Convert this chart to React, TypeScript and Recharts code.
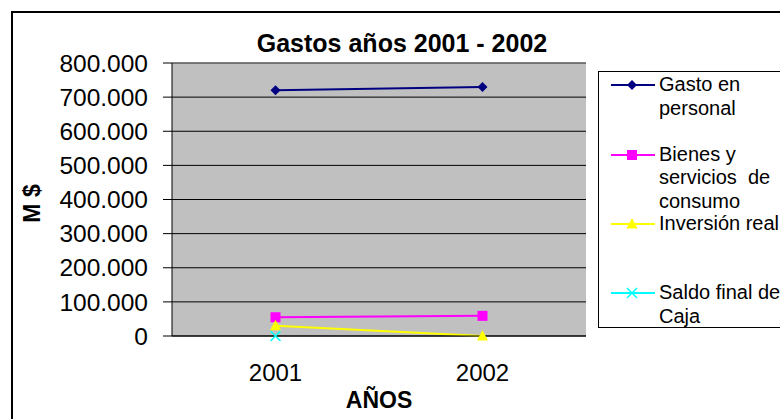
import React from 'react';
import { LineChart, Line, XAxis, YAxis, CartesianGrid, Legend, ReferenceLine } from 'recharts';

// values (M $)
const years = ['2001', '2002'];
const gastoPersonal = [720000, 730000];
const bienesServicios = [55000, 59000];
const inversionReal = [30000, 0];
const saldoFinalCaja: (number | null)[] = [0, null];

const yTicks = [0, 100000, 200000, 300000, 400000, 500000, 600000, 700000, 800000];
const boundaryTicks = [0, 1, 2];

const seriesKeys = ['gasto', 'bienes', 'inversion', 'saldo'];
const seriesNames = ['Gasto en personal', 'Bienes y servicios de consumo', 'Inversión real', 'Saldo final de Caja'];
const seriesColors = ['#000080', '#FF00FF', '#FFFF00', '#00FFFF'];
const seriesShapes = ['diamond', 'square', 'triangle', 'x'];
const legendLines = [['Gasto en', 'personal'], ['Bienes y', 'servicios  de', 'consumo'], ['Inversión real'], ['Saldo final de', 'Caja']];

const data = years.map((year, i) => ({
  year,
  gasto: gastoPersonal[i],
  bienes: bienesServicios[i],
  inversion: inversionReal[i],
  saldo: saldoFinalCaja[i],
}));

const font = '"Liberation Sans", Arial, sans-serif';

const fmt = (v: number) => String(v).replace(/\B(?=(\d{3})+(?!\d))/g, '.');

function Marker({ shape, cx, cy, color }: { shape: string; cx: number; cy: number; color: string }) {
  switch (shape) {
    case 'diamond':
      return <path d={`M${cx},${cy - 5}L${cx + 5},${cy}L${cx},${cy + 5}L${cx - 5},${cy}Z`} fill={color} />;
    case 'square':
      return <rect x={cx - 5} y={cy - 5} width={10} height={10} fill={color} />;
    case 'triangle':
      return <path d={`M${cx},${cy - 6}L${cx + 5.5},${cy + 4.5}L${cx - 5.5},${cy + 4.5}Z`} fill={color} />;
    default:
      return (
        <path
          d={`M${cx - 5},${cy - 5}L${cx + 5},${cy + 5}M${cx + 5},${cy - 5}L${cx - 5},${cy + 5}`}
          stroke={color}
          strokeWidth={1.5}
        />
      );
  }
}

const makeDot = (shape: string, color: string) => (props: any) => {
  const { cx, cy, index, value } = props;
  if (cx == null || cy == null || value == null) return <g key={`e-${index}`} />;
  return (
    <g key={`d-${index}`}>
      <Marker shape={shape} cx={cx} cy={cy} color={color} />
    </g>
  );
};

const renderLegend = (props: any) => {
  const payload = [...(props.payload || [])].sort(
    (a: any, b: any) => seriesKeys.indexOf(a.dataKey) - seriesKeys.indexOf(b.dataKey)
  );
  return (
    <div
      style={{
        width: 182,
        minWidth: 182,
        flexShrink: 0,
        height: 257,
        boxSizing: 'border-box',
        borderLeft: '1px solid #000',
        borderTop: '1px solid #000',
        borderBottom: '1px solid #000',
        background: '#fff',
        position: 'relative',
        overflow: 'hidden',
        fontFamily: font,
        fontSize: 20,
        lineHeight: '23.5px',
        color: '#000',
      }}
    >
      {payload.map((entry: any, i: number) => {
        const k = seriesKeys.indexOf(entry.dataKey);
        return (
          <div
            key={i}
            style={{ position: 'absolute', left: 12, top: 1.3 + i * 69.3, display: 'flex', width: 300 }}
          >
            <svg width={44} height={23.5} style={{ display: 'block', flexShrink: 0 }}>
              <line x1={0} x2={44} y1={12} y2={12} stroke={seriesColors[k]} strokeWidth={2} />
              <Marker shape={seriesShapes[k]} cx={21} cy={12} color={seriesColors[k]} />
            </svg>
            <div style={{ marginLeft: 4, whiteSpace: 'pre' }}>
              {legendLines[k].map((l, j) => (
                <div key={j}>{l}</div>
              ))}
            </div>
          </div>
        );
      })}
    </div>
  );
};

export default function App() {
  return (
    <div
      style={{
        position: 'fixed',
        left: 0,
        top: 0,
        width: 780,
        height: 419,
        overflow: 'hidden',
        background: '#fff',
        fontFamily: font,
      }}
    >
      <div
        style={{
          position: 'absolute',
          left: 11,
          top: 11,
          width: 820,
          height: 460,
          border: '2px solid #000',
        }}
      />
      <div
        style={{
          position: 'absolute',
          left: 0,
          top: 30,
          width: 804,
          textAlign: 'center',
          fontSize: 25,
          fontWeight: 'bold',
          lineHeight: '26px',
        }}
      >
        Gastos años 2001 - 2002
      </div>
      <LineChart
        width={780}
        height={419}
        data={data}
        margin={{ top: 63, right: 194, bottom: 0, left: 0 }}
        style={{ position: 'absolute', left: 0, top: 0 }}
      >
        <CartesianGrid vertical={false} stroke="#000" fill="#C0C0C0" fillOpacity={1} />
        <ReferenceLine y={800000} stroke="#808080" />
        <ReferenceLine xAxisId={0} x={2} stroke="#808080" />
        <XAxis
          xAxisId={0}
          type="number"
          domain={[0, 2]}
          ticks={boundaryTicks}
          allowDataOverflow
          tick={false}
          tickSize={8}
          height={1}
          axisLine={{ stroke: '#000' }}
          tickLine={{ stroke: '#000' }}
        />
        <XAxis
          xAxisId="main"
          dataKey="year"
          type="category"
          padding={{ left: 103.5, right: 103.5 }}
          axisLine={false}
          tickLine={false}
          tickSize={0}
          tickMargin={27}
          interval={0}
          height={82}
          tick={{ fontSize: 24, fill: '#000', fontFamily: font }}
          label={{
            content: (p: any) => {
              const vb = p.viewBox || {};
              return (
                <text
                  x={vb.x + vb.width / 2}
                  y={vb.y + 71}
                  textAnchor="middle"
                  fontSize={23}
                  fontWeight="bold"
                  fontFamily={font}
                  fill="#000"
                >
                  AÑOS
                </text>
              );
            },
          }}
        />
        <YAxis
          domain={[0, 800000]}
          ticks={yTicks}
          interval={0}
          width={172}
          tickSize={9}
          tickMargin={15}
          tickFormatter={fmt}
          axisLine={{ stroke: '#000' }}
          tickLine={{ stroke: '#000' }}
          tick={{ fontSize: 24.5, fill: '#000', fontFamily: font }}
          label={{
            content: (p: any) => {
              const vb = p.viewBox || {};
              const cx = vb.x + 32;
              const cy = vb.y + vb.height / 2 + 4;
              return (
                <text
                  x={cx}
                  y={cy}
                  transform={`rotate(-90 ${cx} ${cy})`}
                  textAnchor="middle"
                  dominantBaseline="central"
                  fontSize={23}
                  fontWeight="bold"
                  fontFamily={font}
                  fill="#000"
                >
                  M $
                </text>
              );
            },
          }}
        />
        <Legend
          layout="vertical"
          align="center"
          verticalAlign="middle"
          content={renderLegend}
          wrapperStyle={{ left: 598, top: 71, width: 182, height: 257 }}
        />
        {seriesKeys.map((key, i) => (
          <Line
            key={key}
            xAxisId="main"
            dataKey={key}
            name={seriesNames[i]}
            stroke={seriesColors[i]}
            strokeWidth={2}
            dot={makeDot(seriesShapes[i], seriesColors[i])}
            activeDot={false}
            isAnimationActive={false}
          />
        ))}
      </LineChart>
    </div>
  );
}
